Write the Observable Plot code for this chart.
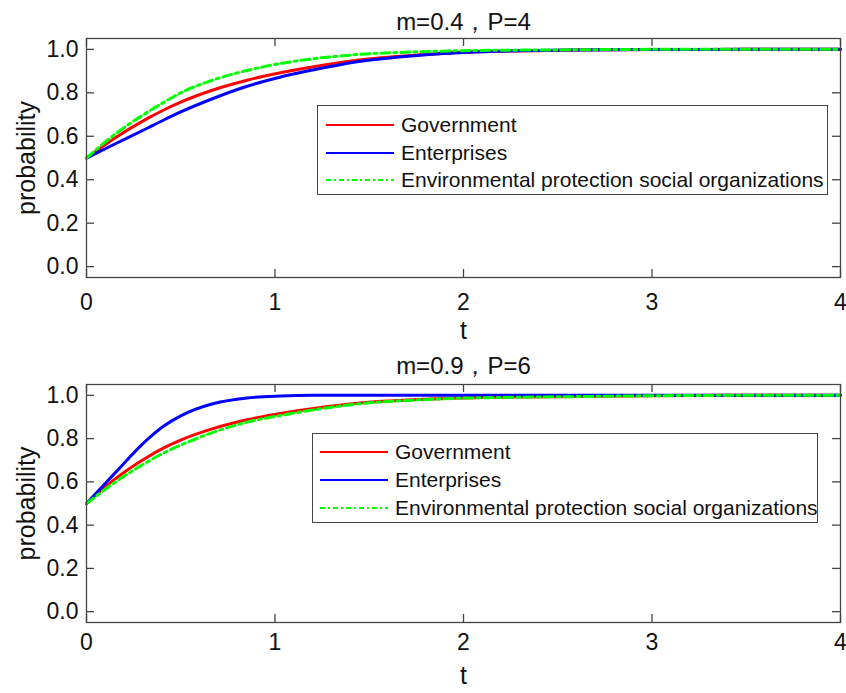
<!DOCTYPE html>
<html><head><meta charset="utf-8">
<script src="https://cdn.jsdelivr.net/npm/d3@7"></script>
<script src="https://cdn.jsdelivr.net/npm/@observablehq/plot@0.6"></script>
<style>
body{margin:0;background:#fff;font-family:"Liberation Sans",Arial,sans-serif;}
#wrap{position:relative;width:846px;height:693px;overflow:hidden;}
.panel{position:relative;width:846px;}
.legend{position:absolute;border:1.3px solid #444;background:#fff;box-sizing:border-box;}
.row{position:absolute;left:0;height:28px;display:flex;align-items:center;font-size:21px;color:#111;white-space:nowrap;}
.row svg{margin-right:7px;}
</style></head><body><div id="wrap"></div>
<script>
// ---- data ----
const seriesNames = ["Government", "Enterprises", "Environmental protection social organizations"];
const seriesColors = ["#ff0000", "#0000ff", "#00ff00"];
const xTicks = [0, 1, 2, 3, 4];
const yTicks = [0, 0.2, 0.4, 0.6, 0.8, 1.0];

const titleTop = "m=0.4，P=4";
const titleBottom = "m=0.9，P=6";
const xLabel = "t";
const yLabel = "probability";

const tGrid = [0, 0.145, 0.322, 0.41, 0.5, 0.675, 0.852, 1.03, 1.206, 1.436, 1.77, 2.0, 2.6, 3.0, 3.5, 4.0];

// top panel (m=0.4, P=4)
const govTop = [0.5, 0.589, 0.681, 0.721, 0.757, 0.814, 0.858, 0.892, 0.920, 0.950, 0.975, 0.987, 0.997, 0.999, 1.0, 1.0];
const entTop = [0.5, 0.562, 0.637, 0.675, 0.712, 0.775, 0.830, 0.873, 0.906, 0.943, 0.973, 0.986, 0.997, 0.999, 1.0, 1.0];
const envTop = [0.5, 0.605, 0.710, 0.756, 0.800, 0.860, 0.903, 0.935, 0.957, 0.976, 0.989, 0.994, 0.998, 1.0, 1.0, 1.0];

// bottom panel (m=0.9, P=6)
const govBot = [0.5, 0.609, 0.714, 0.757, 0.793, 0.847, 0.887, 0.916, 0.939, 0.963, 0.981, 0.988, 0.995, 0.998, 1.0, 1.0];
const entBot = [0.5, 0.635, 0.795, 0.858, 0.905, 0.962, 0.988, 0.997, 1.0, 1.0, 1.0, 1.0, 1.0, 1.0, 1.0, 1.0];
const envBot = [0.5, 0.594, 0.692, 0.734, 0.770, 0.830, 0.876, 0.907, 0.933, 0.960, 0.979, 0.987, 0.994, 0.998, 1.0, 1.0];

// ---- drawing ----
const FONT = "'Liberation Sans', Arial, sans-serif";
const W = 846, ML = 86, MR = 6;

function makePanel(cfg) {
  const series = [cfg.gov, cfg.ent, cfg.env];
  const data = series.map((vals, s) => tGrid.map((t, i) => ({t, v: vals[i], s: seriesNames[s]})));
  const fh = cfg.height - cfg.mt - cfg.mb;
  const fw = W - ML - MR;
  const svg = Plot.plot({
    width: W, height: cfg.height,
    marginLeft: ML, marginRight: MR, marginTop: cfg.mt, marginBottom: cfg.mb,
    style: {fontFamily: FONT, fontSize: "23px", color: "#111", background: "#fff", overflow: "visible"},
    x: {domain: [0, 4]},
    y: {domain: [-0.05, 1.05]},
    marks: [
      Plot.axisX({ticks: xTicks, tickSize: 0, tickPadding: cfg.xPad, tickFormat: d3.format("d"), label: null, fontSize: 23}),
      Plot.axisY({ticks: yTicks, tickSize: 0, tickPadding: 8, tickFormat: d3.format(".1f"), label: null, fontSize: 23}),
      Plot.tickX(xTicks, {x: d => d, insetTop: fh - 8, stroke: "#444", strokeWidth: 1.3}),
      Plot.tickX(xTicks, {x: d => d, insetBottom: fh - 8, stroke: "#444", strokeWidth: 1.3}),
      Plot.tickY(yTicks, {y: d => d, insetRight: fw - 8, stroke: "#444", strokeWidth: 1.3}),
      Plot.tickY(yTicks, {y: d => d, insetLeft: fw - 8, stroke: "#444", strokeWidth: 1.3}),
      Plot.line(data[0], {x: "t", y: "v", stroke: seriesColors[0], strokeWidth: 3, curve: "monotone-x"}),
      Plot.line(data[1], {x: "t", y: "v", stroke: seriesColors[1], strokeWidth: 3, curve: "monotone-x"}),
      Plot.line(data[2], {x: "t", y: "v", stroke: seriesColors[2], strokeWidth: 3, curve: "monotone-x", strokeDasharray: "9,4,3,4"}),
      Plot.frame({stroke: "#444", strokeWidth: 1.3}),
      Plot.text([cfg.title], {frameAnchor: "top", lineAnchor: "middle", textAnchor: "middle", dy: cfg.titleDy, fontSize: 24, fill: "#111"}),
      Plot.text([xLabel], {frameAnchor: "bottom", lineAnchor: "middle", textAnchor: "middle", dy: cfg.xLabelDy, fontSize: 25, fill: "#111"}),
      Plot.text([yLabel], {frameAnchor: "left", lineAnchor: "middle", textAnchor: "middle", rotate: -90, dx: -60, fontSize: 25, fill: "#111"})
    ]
  });
  const panel = document.createElement("div");
  panel.className = "panel";
  panel.style.height = cfg.height + "px";
  panel.appendChild(svg);

  // legend (HTML overlay)
  const lg = document.createElement("div");
  lg.className = "legend";
  Object.assign(lg.style, {left: cfg.lg.left + "px", top: cfg.lg.top + "px", width: cfg.lg.width + "px", height: cfg.lg.height + "px"});
  seriesNames.forEach((name, i) => {
    const row = document.createElement("div");
    row.className = "row";
    row.style.top = (cfg.lg.rowTop + i * cfg.lg.rowGap - 14) + "px";
    row.style.left = cfg.lg.pad + "px";
    const dash = i === 2 ? ' stroke-dasharray="5,3,2,3"' : "";
    row.innerHTML = `<svg width="68" height="6"><line x1="0" y1="3" x2="68" y2="3" stroke="${seriesColors[i]}" stroke-width="2"${dash}/></svg><span>${name}</span>`;
    lg.appendChild(row);
  });
  panel.appendChild(lg);
  return panel;
}

const wrap = document.getElementById("wrap");
wrap.appendChild(makePanel({
  title: titleTop, gov: govTop, ent: entTop, env: envTop,
  height: 346, mt: 38, mb: 69, xPad: 16, titleDy: -16, xLabelDy: 53,
  lg: {left: 317, top: 105, width: 511, height: 90, pad: 8, rowTop: 19, rowGap: 27.7}
}));
wrap.appendChild(makePanel({
  title: titleBottom, gov: govBot, ent: entBot, env: envBot,
  height: 347, mt: 38, mb: 71, xPad: 11, titleDy: -18, xLabelDy: 53,
  lg: {left: 312, top: 87, width: 506, height: 90, pad: 7, rowTop: 18, rowGap: 28}
}));
</script>
</body></html>
